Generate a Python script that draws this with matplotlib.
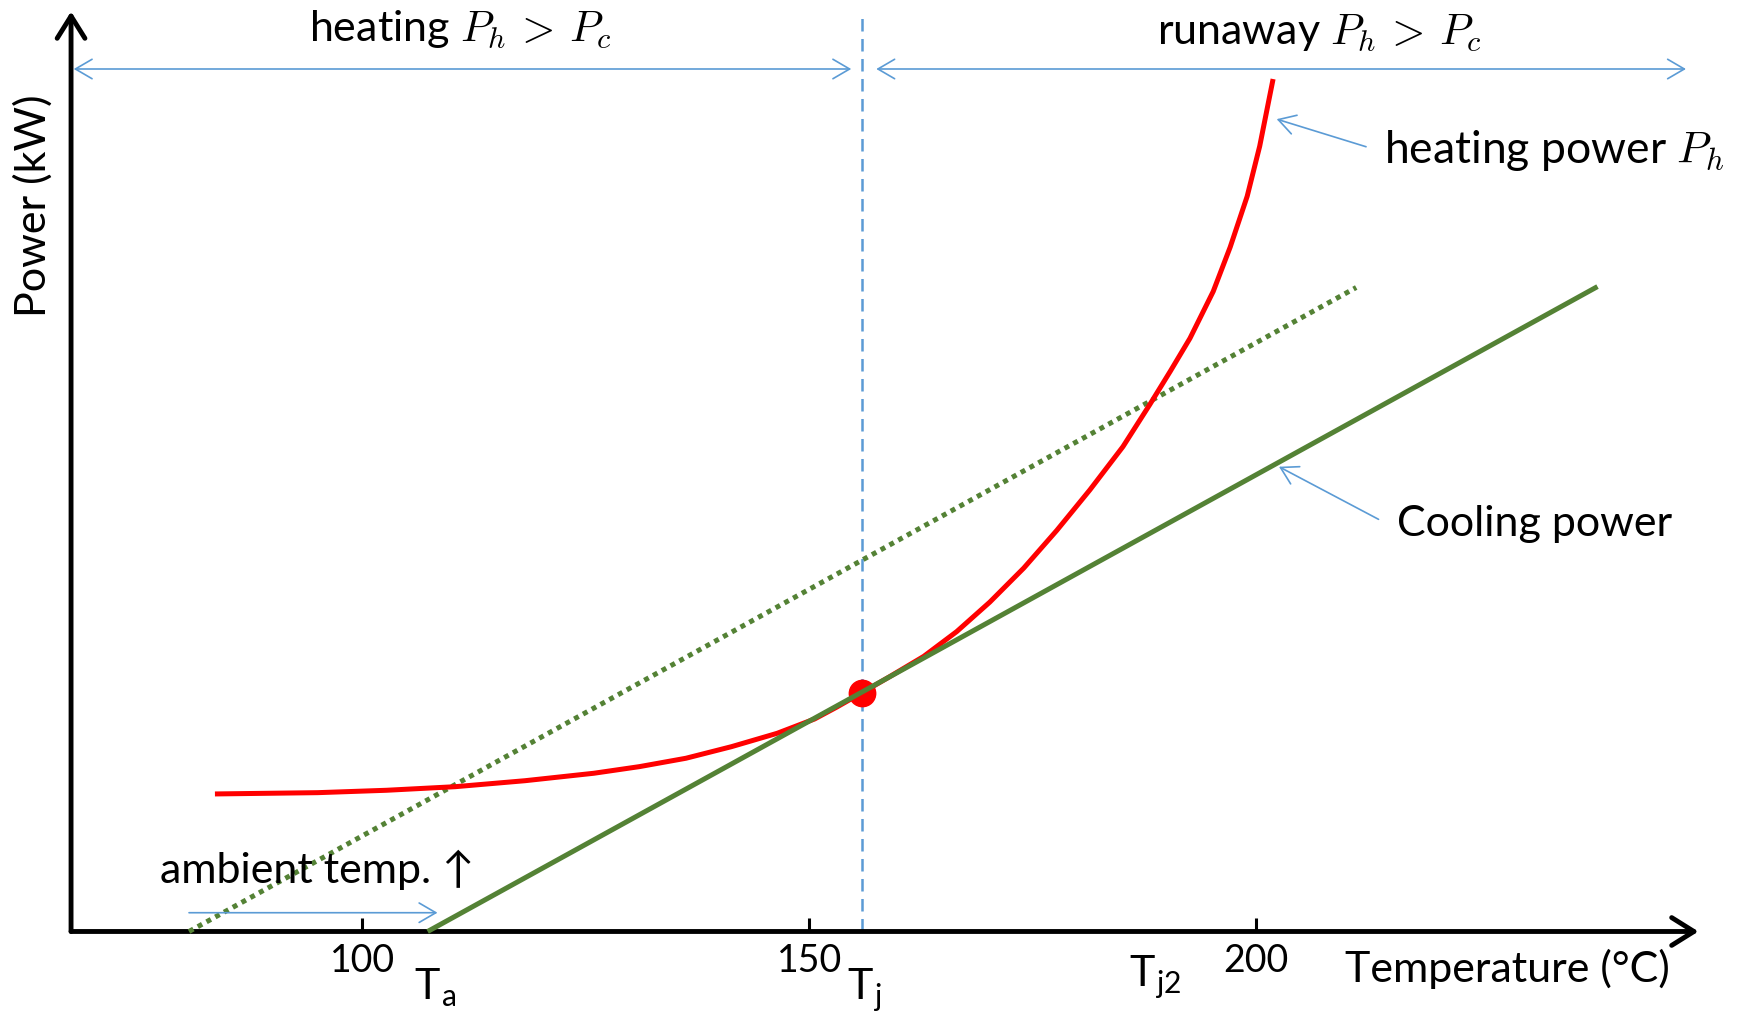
# thermal runaway sketch: heating power vs cooling power

import matplotlib
matplotlib.use('Agg')
import matplotlib.pyplot as plt

plt.rcParams['font.family'] = ['Lato', 'DejaVu Sans']
plt.rcParams['mathtext.fontset'] = 'cm'

# heating power curve
heat_temp = [83.5, 95.0, 102.7, 110.4, 118.2, 125.9, 131.0, 136.2, 141.3, 146.4, 150.6,
             153.0, 155.9, 159.0, 162.8, 166.5, 170.2, 174.0, 177.7, 181.4, 185.1, 188.1,
             190.4, 192.6, 195.2, 197.1, 199.0, 200.4, 201.9]
heat_power = [1.495, 1.509, 1.535, 1.574, 1.639, 1.720, 1.792, 1.883, 2.009, 2.154, 2.310,
              2.435, 2.595, 2.770, 2.990, 3.260, 3.580, 3.950, 4.360, 4.800, 5.270, 5.727,
              6.090, 6.448, 6.957, 7.439, 7.991, 8.535, 9.266]

# cooling power lines
cool_temp = [107.3, 238.2]
cool_power = [0.0, 7.01]
cool_hot_temp = [80.6, 211.2]   # higher ambient temp
cool_hot_power = [0.0, 7.0]

tj_temp = 155.9
tj_power = 2.595

tick_vals = [100, 150, 200]
tick_labels = ['100', '150', '200']

blue = '#5B9BD5'
green = '#548235'
red = '#FF0000'

fig = plt.figure(figsize=(17.43, 10.13), dpi=100)
ax = fig.add_axes([0, 0, 1, 1])
ax.set_xlim(59.45, 254.48)
ax.set_ylim(-0.886, 10.125)

for s in ['top', 'right', 'left']:
    ax.spines[s].set_visible(False)
ax.spines['bottom'].set_position(('data', 0))
ax.spines['bottom'].set_edgecolor('none')

ax.set_xticks(tick_vals)
ax.set_xticklabels(tick_labels)
ax.tick_params(axis='x', direction='in', length=9.5, width=2.2, pad=8, labelsize=27)
ax.set_yticks([])

# axes with arrow heads
ax.annotate('', xy=(249.5, 0), xytext=(67.4, 0),
            arrowprops=dict(arrowstyle='->,head_length=0.8,head_width=0.5', lw=3.5,
                            color='black', mutation_scale=20, shrinkA=0, shrinkB=0))
ax.annotate('', xy=(67.4, 10.0), xytext=(67.4, 0),
            arrowprops=dict(arrowstyle='->,head_length=0.8,head_width=0.5', lw=3.5,
                            color='black', mutation_scale=20, shrinkA=0, shrinkB=0))

# curves
ax.plot(cool_hot_temp, cool_hot_power, color=green, lw=3.6, linestyle=(0, (1.0, 1.0)),
        dash_capstyle='butt', zorder=3)
ax.plot(heat_temp, heat_power, color=red, lw=3.6, solid_capstyle='butt',
        solid_joinstyle='round', zorder=4)
ax.plot(cool_temp, cool_power, color=green, lw=3.6, solid_capstyle='butt', zorder=5)
ax.plot([tj_temp], [tj_power], 'o', color=red, markersize=19, zorder=4)

# T_j marker line
ax.plot([tj_temp, tj_temp], [0, 9.98], color=blue, lw=1.8, linestyle=(0, (5.0, 3.0)), zorder=2)

# region arrows
dim = dict(arrowstyle='<->,head_length=0.6,head_width=0.35', lw=1.2, color=blue,
           mutation_scale=20, shrinkA=0, shrinkB=0)
ax.annotate('', xy=(67.7, 9.375), xytext=(154.7, 9.375), arrowprops=dim)
ax.annotate('', xy=(157.5, 9.375), xytext=(248.1, 9.375), arrowprops=dim)

pointer = dict(arrowstyle='->,head_length=0.6,head_width=0.35', lw=1.2, color=blue,
               mutation_scale=20, shrinkA=0, shrinkB=0)
ax.annotate('', xy=(202.3, 8.83), xytext=(212.3, 8.53), arrowprops=pointer)
ax.annotate('', xy=(202.56, 5.052), xytext=(213.7, 4.48), arrowprops=pointer)
ax.annotate('', xy=(108.4, 0.204), xytext=(80.6, 0.204), arrowprops=pointer)

fs = 31
ax.text(111.0, 9.668, r'heating $P_h \,>\, P_c$', ha='center', va='baseline', fontsize=fs)
ax.text(207.1, 9.636, r'runaway $P_h \,>\, P_c$', ha='center', va='baseline', fontsize=fs)
ax.text(214.3, 8.353, r'heating power $P_h$', ha='left', va='baseline', fontsize=32)
ax.text(215.8, 4.299, 'Cooling power', ha='left', va='baseline', fontsize=fs)
ax.text(77.3, 0.524, 'ambient temp. ↑', ha='left', va='baseline', fontsize=fs)
ax.text(63.14, 7.886, 'Power (kW)', rotation=90, ha='center', va='center', fontsize=fs)
ax.text(210.0, -0.549, 'Temperature (°C)', ha='left', va='baseline', fontsize=fs)

# temperature markers
ax.text(105.8, -0.745, r'T$_\mathregular{a}$', ha='left', va='baseline', fontsize=fs)
ax.text(154.2, -0.745, r'T$_\mathregular{j}$', ha='left', va='baseline', fontsize=fs)
ax.text(185.8, -0.603, r'T$_\mathregular{j2}$', ha='left', va='baseline', fontsize=fs)

plt.savefig('out.png', dpi=100)
plt.close()
